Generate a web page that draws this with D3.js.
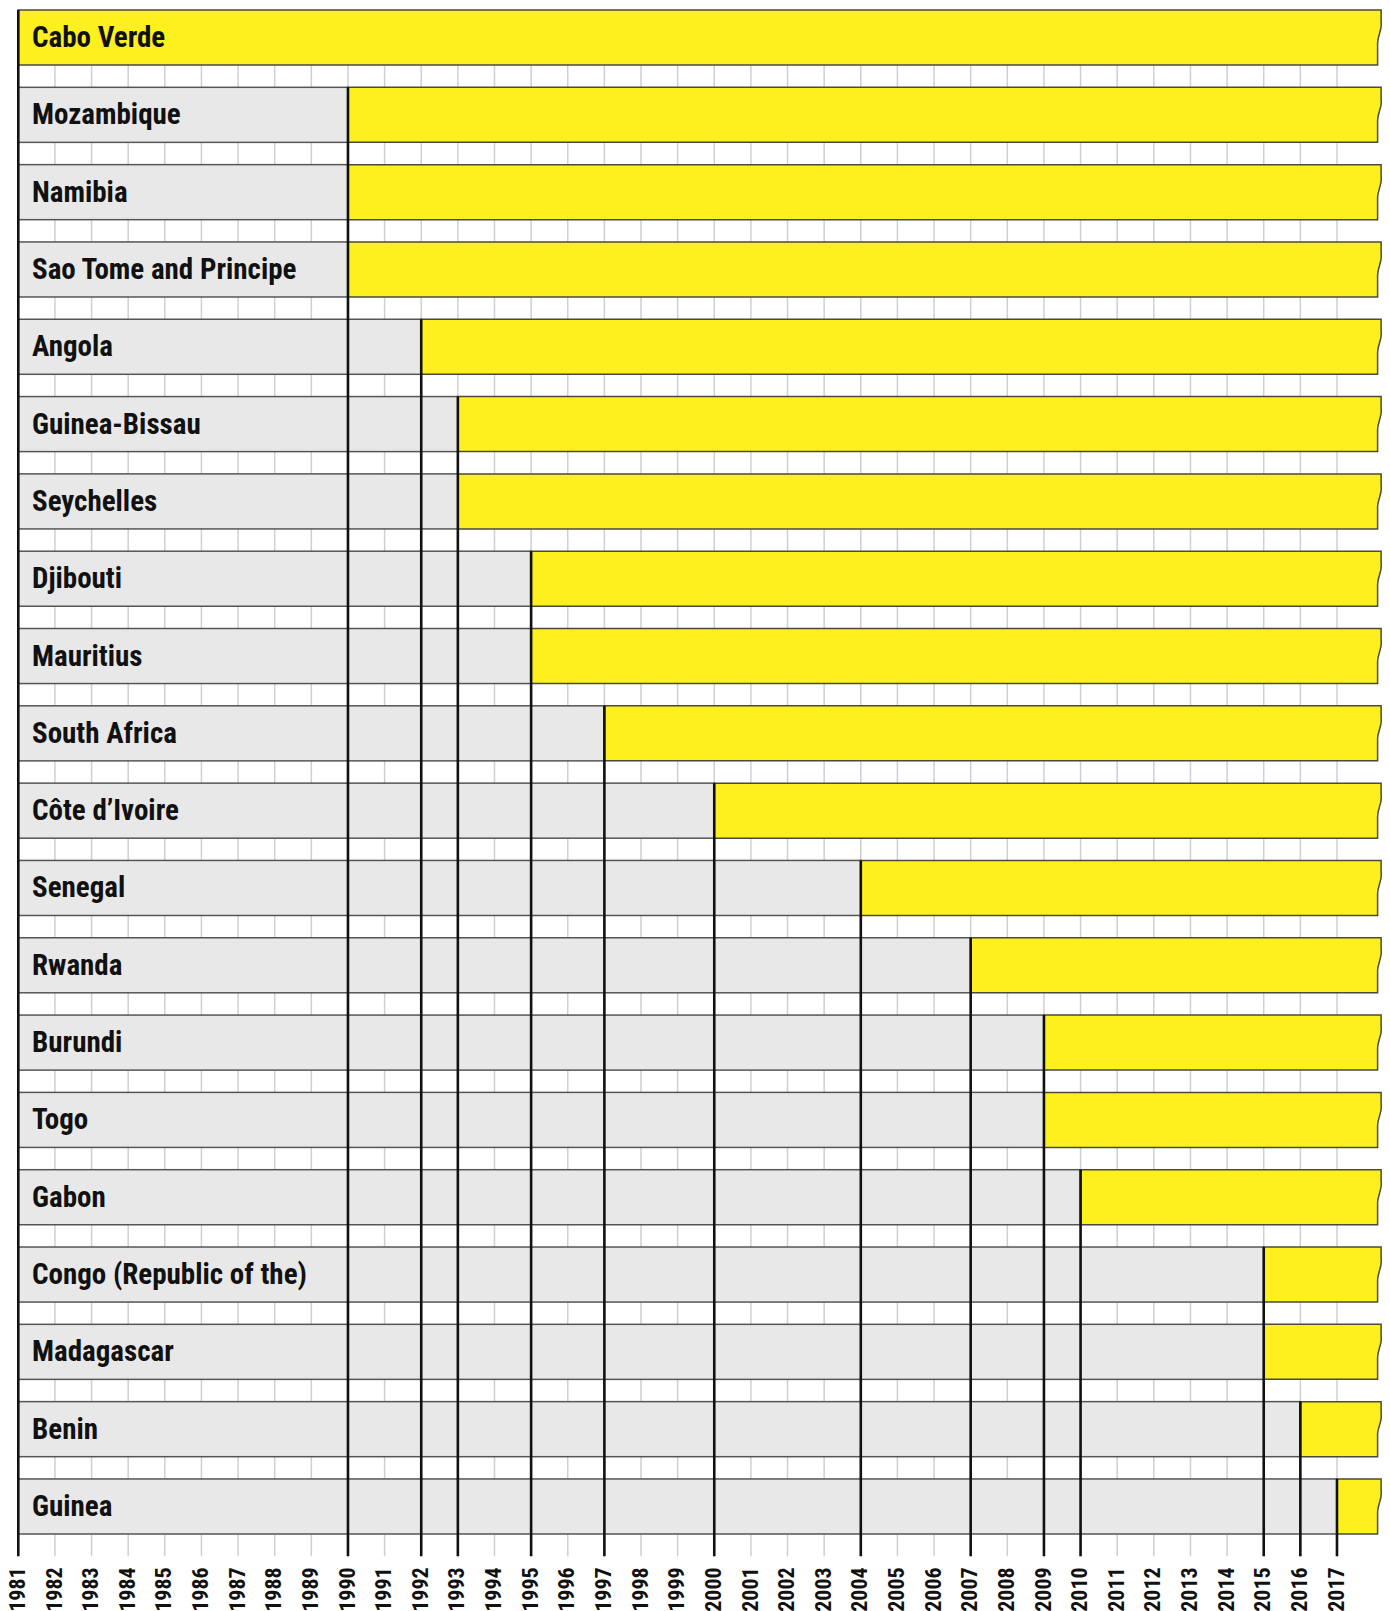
<!DOCTYPE html>
<html>
<head>
<meta charset="utf-8">
<script src="https://cdn.jsdelivr.net/npm/d3@7"></script>
<style>
    body { margin: 0; background: #fff; }
    svg text { font-family: "Liberation Sans Narrow", "Roboto Condensed", "DejaVu Sans Condensed", "Arial Narrow", sans-serif; font-weight: bold; fill: #111; }
</style>
</head>
<body>
<svg id="chart"></svg>
<script>
// Countries, top to bottom, and the year each bar starts
const countries = [
    "Cabo Verde", "Mozambique", "Namibia", "Sao Tome and Principe", "Angola",
    "Guinea-Bissau", "Seychelles", "Djibouti", "Mauritius", "South Africa",
    "Côte d’Ivoire", "Senegal", "Rwanda", "Burundi", "Togo", "Gabon",
    "Congo (Republic of the)", "Madagascar", "Benin", "Guinea"
];
const startYears = [
    1981, 1990, 1990, 1990, 1992,
    1993, 1993, 1995, 1995, 1997,
    2000, 2004, 2007, 2009, 2009, 2010,
    2015, 2015, 2016, 2017
];
// all bars run on past the last tick
const endYear = 2018.15;
const tickYears = d3.range(1981, 2018);

const width = 1390;
const height = 1611;

const yellow = "#fef01e";
const bandGrey = "#e8e8e8";

const rows = countries.map((c, i) => ({ country: c, start: startYears[i] }));

const x = d3.scaleLinear()
    .domain([1981, 2018])
    .range([18.3, 18.3 + 37 * 36.63]);

const y = d3.scaleBand()
    .domain(countries)
    .range([10, 1534])
    .paddingInner(0.288)
    .paddingOuter(0);

const axisBottom = y.range()[1] + y.step() * y.paddingInner();

const svg = d3.select("#chart")
    .attr("width", width)
    .attr("height", height);

// light grid lines, one per year
svg.append("g")
    .selectAll("line")
    .data(tickYears.slice(1))
    .enter()
    .append("line")
    .attr("x1", d => x(d))
    .attr("x2", d => x(d))
    .attr("y1", y.range()[0])
    .attr("y2", axisBottom)
    .attr("stroke", "#cfcfcf")
    .attr("stroke-width", 1.5);

const rowG = svg.append("g")
    .selectAll("g")
    .data(rows)
    .enter()
    .append("g");

// grey band behind the whole row
rowG.append("rect")
    .attr("x", x(1981))
    .attr("y", d => y(d.country))
    .attr("width", d => x(d.start) - x(1981))
    .attr("height", y.bandwidth())
    .attr("fill", bandGrey)
    .attr("stroke", "#555")
    .attr("stroke-width", 1.5);

// yellow bar with a torn right edge
const xEnd = x(endYear);
rowG.append("path")
    .attr("d", d => {
        const top = y(d.country);
        const bot = top + y.bandwidth();
        const x0 = x(d.start);
        return `M${x0},${top}H${xEnd + 2}` +
            `V${top + 12}C${xEnd + 3.5},${top + 20} ${xEnd - 2},${top + 26} ${xEnd - 1.5},${top + 34}` +
            `V${bot}H${x0}Z`;
    })
    .attr("fill", yellow)
    .attr("stroke", "#4a4a3a")
    .attr("stroke-width", 1.5);

// country names
rowG.append("text")
    .attr("x", 32)
    .attr("y", d => y(d.country) + 37)
    .style("font-size", "29px")
    .text(d => d.country);

// black lines from the first row of each start year down to the axis
const firstRow = d3.rollups(rows, v => d3.min(v, r => y(r.country)), r => r.start);
svg.append("g")
    .selectAll("line")
    .data(firstRow)
    .enter()
    .append("line")
    .attr("x1", d => x(d[0]))
    .attr("x2", d => x(d[0]))
    .attr("y1", d => d[1])
    .attr("y2", axisBottom)
    .attr("stroke", "#111")
    .attr("stroke-width", 2.6);

// rotated year labels
svg.append("g")
    .selectAll("text")
    .data(tickYears)
    .enter()
    .append("text")
    .attr("transform", d => `translate(${x(d)},${axisBottom + 11}) rotate(-90)`)
    .attr("text-anchor", "end")
    .attr("dy", "0.3em")
    .style("font-size", "22px")
    .text(d => d);
</script>
</body>
</html>
